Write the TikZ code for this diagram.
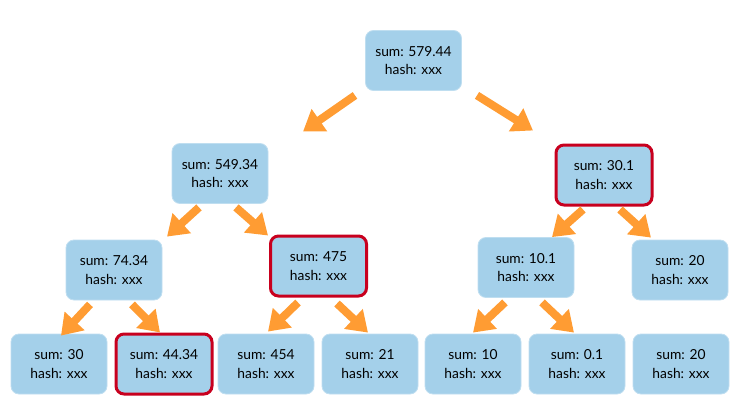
\documentclass[tikz,border=0pt]{standalone}
\usepackage{fontspec}
\setmainfont{Lato}
\usepackage{tikz}
\usetikzlibrary{arrows.meta}
\definecolor{boxblue}{HTML}{A4D0EA}
\definecolor{flowor}{HTML}{FF9C33}
\definecolor{markred}{HTML}{C8001E}
\tikzset{
    hashbox/.style={rectangle, rounded corners=8pt, fill=boxblue, draw=boxblue!70!white,
        line width=0.8pt, minimum width=96pt, minimum height=60pt, align=center,
        font=\fontsize{13.8}{18.5}\selectfont},
    redbox/.style={hashbox, draw=markred, line width=3pt},
    flow/.style={-{Triangle[length=20pt,width=26pt]}, flowor, line width=8pt}
}

\begin{document}
\begin{tikzpicture}[x=1pt, y=-1pt]
    \useasboundingbox (0,0) rectangle (737,404);

    % Draw the root
    \node[hashbox] (root) at (413.5, 60.5) {sum: 579.44\\hash: xxx};

    % Draw the second row
    \node[hashbox] (n1) at (220, 173.5) {sum: 549.34\\hash: xxx};
    \node[redbox] (n2) at (604, 175) {sum: 30.1\\hash: xxx};

    % Draw the third row
    \node[hashbox] (n11) at (114, 270) {sum: 74.34\\hash: xxx};
    \node[redbox] (n12) at (318.5, 266) {sum: 475\\hash: xxx};
    \node[hashbox] (n21) at (526, 267.5) {sum: 10.1\\hash: xxx};
    \node[hashbox] (n22) at (680, 270) {sum: 20\\hash: xxx};

    % Draw the leaves
    \node[hashbox] (l1) at (59, 364) {sum: 30\\hash: xxx};
    \node[redbox] (l2) at (164, 364) {sum: 44.34\\hash: xxx};
    \node[hashbox] (l3) at (266, 364) {sum: 454\\hash: xxx};
    \node[hashbox] (l4) at (370, 364) {sum: 21\\hash: xxx};
    \node[hashbox] (l5) at (473, 364) {sum: 10\\hash: xxx};
    \node[hashbox] (l6) at (577, 364) {sum: 0.1\\hash: xxx};
    \node[hashbox] (l7) at (681, 364) {sum: 20\\hash: xxx};

    % Draw arrows from the parents to the children
    \draw[flow] ([shift={(-58.5,4.5)}]root.south) -- ([shift={(83,-11.5)}]n1.north);
    \draw[flow] ([shift={(63.5,4.5)}]root.south) -- ([shift={(-71,-13)}]n2.north);
    \draw[flow] ([shift={(-21,3.5)}]n1.south) -- ([shift={(53,-3)}]n11.north);
    \draw[flow] ([shift={(16,3.5)}]n1.south) -- ([shift={(-50.5,1)}]n12.north);
    \draw[flow] ([shift={(-21,3)}]n2.south) -- ([shift={(26,0)}]n21.north);
    \draw[flow] ([shift={(16,3)}]n2.south) -- ([shift={(-29,-2)}]n22.north);
    \draw[flow] ([shift={(-24,4)}]n11.south) -- ([shift={(2,2)}]l1.north);
    \draw[flow] ([shift={(18,4)}]n11.south) -- ([shift={(-4,0)}]l2.north);
    \draw[flow] ([shift={(-20.5,5)}]n12.south) -- ([shift={(2,-2)}]l3.north);
    \draw[flow] ([shift={(18.5,6)}]n12.south) -- ([shift={(-2,-1)}]l4.north);
    \draw[flow] ([shift={(-21,4.5)}]n21.south) -- ([shift={(0,-1)}]l5.north);
    \draw[flow] ([shift={(16,4.5)}]n21.south) -- ([shift={(-3,-1)}]l6.north);

\end{tikzpicture}
\end{document}
